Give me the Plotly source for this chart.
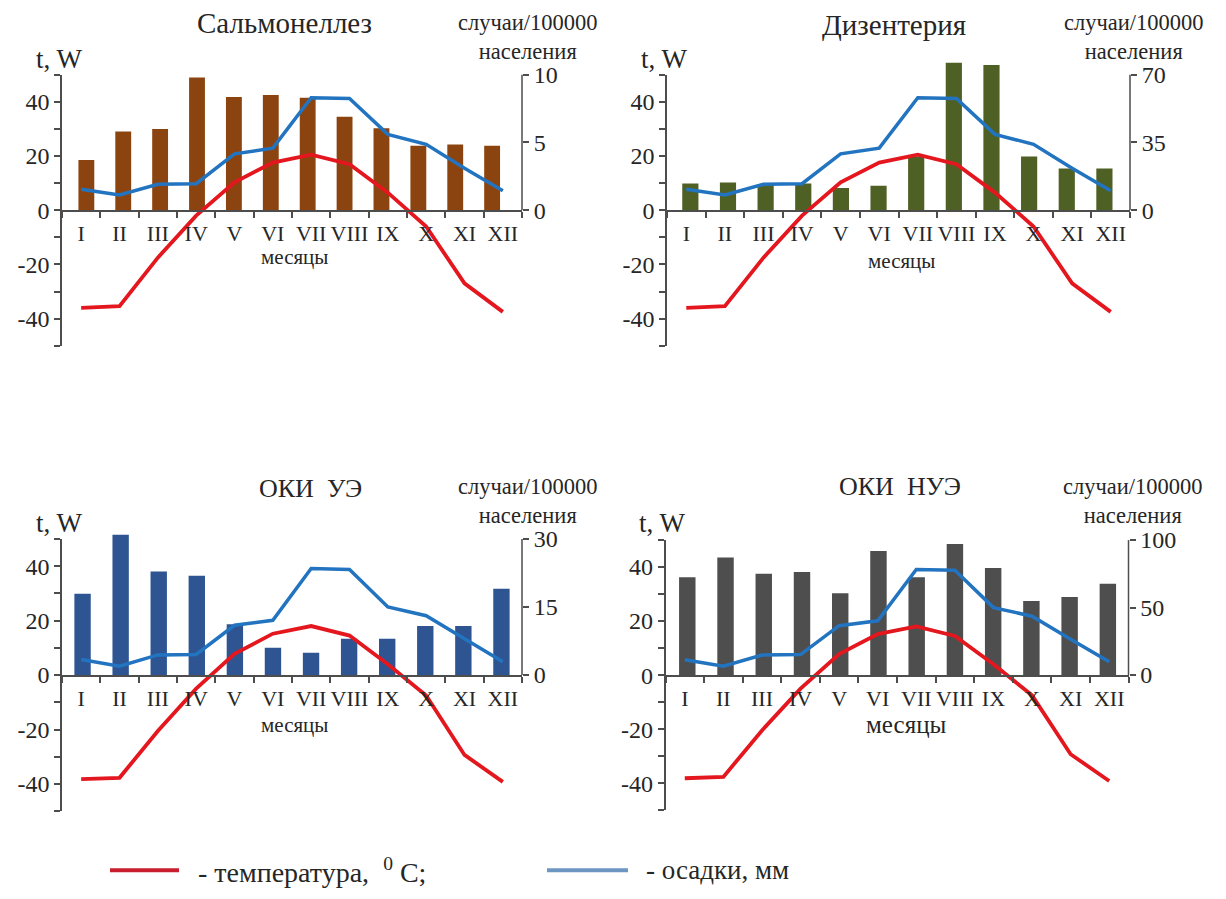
import plotly.graph_objects as go

W, H = 1226, 899
FONT = "Liberation Serif, Times New Roman, DejaVu Serif, serif"

months = ["I", "II", "III", "IV", "V", "VI", "VII", "VIII", "IX", "X", "XI", "XII"]

# Climate series: temperature (°C) and precipitation (mm), read on the left axis
temp_top = [-36.0, -35.4, -17.5, -2.0, 10.3, 17.6, 20.5, 17.0, 6.5, -6.0, -27.0, -37.5]
precip_top = [7.7, 5.6, 9.6, 9.8, 20.8, 22.9, 41.5, 41.2, 28.0, 24.3, 15.5, 7.2]
temp_bottom = [-38.2, -37.7, -20.5, -5.0, 7.8, 15.2, 18.0, 14.5, 4.0, -7.5, -29.3, -39.2]
precip_bottom = [5.7, 3.3, 7.4, 7.6, 18.3, 20.1, 39.1, 38.8, 25.0, 21.8, 13.3, 4.9]

# Incidence, cases per 100000 population (right axis)
salmonellosis = [3.7, 5.8, 6.0, 9.8, 8.35, 8.5, 8.3, 6.9, 6.05, 4.75, 4.85, 4.75]
dysentery = [13.8, 14.3, 13.5, 13.8, 11.5, 12.6, 27.8, 76.2, 75.0, 27.8, 21.6, 21.6]
aki_established = [17.9, 30.9, 22.8, 21.9, 11.2, 6.0, 4.9, 8.0, 8.0, 10.8, 10.8, 19.0]
aki_unestablished = [72.4, 87.1, 75.1, 76.3, 60.7, 92.0, 72.4, 97.1, 79.3, 54.9, 57.8, 67.6]

left_major = [-40, -20, 0, 20, 40]
left_minor = [-50, -30, -10, 10, 30, 50]

RED = "rgb(228,22,30)"
BLUE = "rgb(34,116,192)"
AXIS = "#4d4d4d"
TXT = "#262626"

# geometry of each panel in pixels: left axis x, right axis x, zero line y, px for 50 units
panels = [
    dict(title="Сальмонеллез", title_xy=(284, 23), title_size=29,
         bars=salmonellosis, color="rgb(139,68,16)", rmax=10,
         temp=temp_top, precip=precip_top,
         box=(62, 522, 213.3, 137.5), bar_range=(-0.66, 11.81),
         units_xy=(528, 38), tw=(59, 60), mon=(294, 261), mon_size=21),
    dict(title="Дизентерия", title_xy=(894, 25), title_size=29,
         bars=dysentery, color="rgb(79,96,36)", rmax=70,
         temp=temp_top, precip=precip_top,
         box=(667, 1130, 213.3, 137.5), bar_range=(-0.62, 11.68),
         units_xy=(1134, 38), tw=(664, 60), mon=(901, 265), mon_size=21),
    dict(title="ОКИ  УЭ", title_xy=(310, 496), title_size=26,
         bars=aki_established, color="rgb(46,84,146)", rmax=30,
         temp=temp_bottom, precip=precip_bottom,
         box=(62, 522, 685, 138.2), bar_range=(-0.54, 11.54),
         units_xy=(528, 508), tw=(59, 531), mon=(294, 736), mon_size=21),
    dict(title="ОКИ  НУЭ", title_xy=(900, 494), title_size=26,
         bars=aki_unestablished, color="rgb(78,78,78)", rmax=100,
         temp=temp_bottom, precip=precip_bottom,
         box=(665.5, 1128.5, 685, 137.0), bar_range=(-0.57, 11.54),
         units_xy=(1133, 508), tw=(662, 531), mon=(906, 735), mon_size=25),
]

EXT = 1.2  # headroom above the right-axis maximum for tall bars

fig = go.Figure()
layout = {}
shapes = []
annotations = []


def ax_id(i):
    return "" if i == 1 else str(i)


def px_x(x):
    return x / W


def px_y(y):
    return 1 - y / H


def note(text, xy, size, anchor="center"):
    annotations.append(dict(text=text, x=px_x(xy[0]), y=px_y(xy[1]), xref="paper",
                            yref="paper", xanchor=anchor, yanchor="middle",
                            showarrow=False, font=dict(family=FONT, size=size, color=TXT)))


for p, pn in enumerate(panels):
    ib, il = 2 * p + 1, 2 * p + 2
    xb, yb, xl, yl = "x" + ax_id(ib), "y" + ax_id(ib), "x" + ax_id(il), "y" + ax_id(il)
    left, right, zero, half = pn["box"]
    xdom = [px_x(left), px_x(right)]
    ydom_lines = [px_y(zero + half), px_y(zero - half)]
    ydom_bars = [px_y(zero), px_y(zero - EXT * half)]
    rmax = pn["rmax"]
    idx = list(range(len(months)))

    fig.add_trace(go.Bar(x=idx, y=pn["bars"], xaxis=xb, yaxis=yb, width=0.43,
                         marker=dict(color=pn["color"], line=dict(width=0)),
                         showlegend=False, hoverinfo="skip"))
    fig.add_trace(go.Scatter(x=idx, y=pn["precip"], xaxis=xl, yaxis=yl, mode="lines",
                             line=dict(color=BLUE, width=3.5), showlegend=False))
    fig.add_trace(go.Scatter(x=idx, y=pn["temp"], xaxis=xl, yaxis=yl, mode="lines",
                             line=dict(color=RED, width=3.8), showlegend=False))

    layout["xaxis" + ax_id(ib)] = dict(domain=xdom, range=list(pn["bar_range"]), anchor=yb,
                                       visible=False, fixedrange=True)
    rt = [0, rmax // 2 if rmax % 2 == 0 else rmax / 2, rmax]
    layout["yaxis" + ax_id(ib)] = dict(
        domain=ydom_bars, range=[0, EXT * rmax], anchor=xb, side="right",
        showline=False, showgrid=False, zeroline=False,
        tickmode="array", tickvals=rt, ticktext=[str(v) for v in rt],
        ticks="outside", ticklen=6, tickwidth=1.5, tickcolor=AXIS,
        tickfont=dict(family=FONT, size=24, color=TXT))
    layout["xaxis" + ax_id(il)] = dict(
        domain=xdom, range=[-0.5, 11.5], anchor=yb, side="bottom",
        showline=True, linecolor=AXIS, linewidth=1.5, showgrid=False, zeroline=False,
        tickmode="array", tickvals=idx, ticktext=months, ticks="",
        ticklabelstandoff=3,
        minor=dict(tickmode="array", tickvals=[k + 0.5 for k in range(-1, 12)],
                   ticks="outside", ticklen=6, tickwidth=1.5, tickcolor=AXIS),
        tickfont=dict(family=FONT, size=22, color=TXT))
    layout["yaxis" + ax_id(il)] = dict(
        domain=ydom_lines, range=[-50, 50], anchor=xl, side="left",
        showline=True, linecolor=AXIS, linewidth=1.5, showgrid=False, zeroline=False,
        tickmode="array", tickvals=left_major, ticktext=[str(v) for v in left_major],
        ticks="outside", ticklen=6, tickwidth=1.5, tickcolor=AXIS,
        minor=dict(tickmode="array", tickvals=left_minor,
                   ticks="outside", ticklen=6, tickwidth=1.5, tickcolor=AXIS),
        tickfont=dict(family=FONT, size=24, color=TXT))

    # right axis line spans only 0..max of the incidence scale
    shapes.append(dict(type="line", xref=xb + " domain", x0=1, x1=1, yref=yb, y0=0, y1=rmax,
                       line=dict(color=AXIS, width=1.5)))

    note(pn["title"], pn["title_xy"], pn["title_size"])
    note("случаи/100000<br>населения", pn["units_xy"], 22.5)
    note("t, W", pn["tw"], 27)
    note("месяцы", pn["mon"], pn["mon_size"])

# legend keys
shapes.append(dict(type="line", xref="paper", yref="paper", x0=px_x(110), x1=px_x(179),
                   y0=px_y(883), y1=px_y(883), line=dict(color="rgb(200,30,45)", width=4)))
shapes.append(dict(type="line", xref="paper", yref="paper", x0=px_x(547), x1=px_x(628),
                   y0=px_y(883), y1=px_y(883), line=dict(color="rgb(110,150,195)", width=4)))
note("- температура,  <sup>0</sup> C;", (196, 883), 28, anchor="left")
note("- осадки, мм", (644, 883), 27, anchor="left")

fig.update_layout(
    width=W, height=H, autosize=False,
    margin=dict(l=0, r=0, t=0, b=0),
    paper_bgcolor="white", plot_bgcolor="rgba(0,0,0,0)",
    showlegend=False, barmode="overlay",
    shapes=shapes, annotations=annotations,
    **layout,
)

fig.write_html("out.html")
